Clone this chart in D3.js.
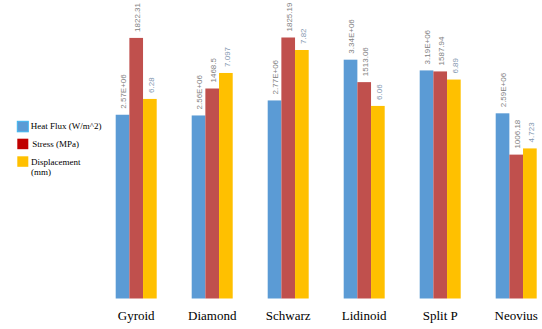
<!DOCTYPE html>
<html>
<head>
<meta charset="utf-8">
<script src="https://cdn.jsdelivr.net/npm/d3@7"></script>
<style>
  html, body { margin: 0; padding: 0; background: #fff; }
  svg { display: block; }
</style>
</head>
<body>
<svg id="chart" width="542" height="329"></svg>
<script>
const categories = ["Gyroid", "Diamond", "Schwarz", "Lidinoid", "Split P", "Neovius"];
const seriesNames = ["Heat Flux (W/m^2)", "Stress (MPa)", "Displacement (mm)"];
const heatFlux = [2.57e6, 2.56e6, 2.77e6, 3.34e6, 3.19e6, 2.59e6];
const stress = [1822.31, 1468.5, 1825.19, 1513.06, 1587.94, 1006.18];
const displacement = [6.28, 7.097, 7.82, 6.06, 6.89, 4.723];
const axisMax = [4e6, 2000, 9];

const barColors = ["#5B9BD5", "#C0504D", "#FFC000"];
const legendColors = ["#5B9BD5", "#C00000", "#FFC000"];
const labelColors = ["#7F7F7F", "#7F7F7F", "#8497B0"];

const svg = d3.select("#chart");
const baseY = 298.5, topY = 12.5;

const x = d3.scaleBand().domain(categories).range([115.7, 536.7]).paddingInner(0.4605).paddingOuter(0);
const xs = d3.scaleBand().domain([0, 1, 2]).range([0, x.bandwidth()]);
const ys = axisMax.map(m => d3.scaleLinear().domain([0, m]).range([baseY, topY]));

function sci(v) {
  const s = d3.format(".2e")(v); // 2.57e+6
  const [m, e] = s.split("e");
  const sign = e[0] === "-" ? "-" : "+";
  const ex = Math.abs(+e).toString().padStart(2, "0");
  return m + "E" + sign + ex;
}
const fmts = [sci, v => String(v), v => String(v)];

const seriesData = [heatFlux, stress, displacement];

seriesData.forEach((vals, si) => {
  const g = svg.append("g");
  g.selectAll("rect").data(vals).join("rect")
    .attr("x", (d, i) => x(categories[i]) + xs(si))
    .attr("width", xs.bandwidth())
    .attr("y", d => ys[si](d))
    .attr("height", d => baseY - ys[si](d))
    .attr("fill", barColors[si]);
  g.selectAll("text").data(vals).join("text")
    .attr("transform", (d, i) => {
      const cx = x(categories[i]) + xs(si) + xs.bandwidth() / 2 + 1;
      const cy = ys[si](d) - 6;
      return `translate(${cx},${cy}) rotate(-90)`;
    })
    .attr("dy", "0.35em")
    .attr("text-anchor", "start")
    .attr("font-family", "'Liberation Sans', Arial, sans-serif")
    .attr("font-size", "8px")
    .attr("fill", labelColors[si])
    .text(d => fmts[si](d));
});

// category labels
svg.append("g").selectAll("text").data(categories).join("text")
  .attr("x", d => x(d) + x.bandwidth() / 2)
  .attr("y", 320)
  .attr("text-anchor", "middle")
  .attr("font-family", "'Liberation Serif', 'Times New Roman', serif")
  .attr("font-size", "13px")
  .attr("fill", "#000")
  .text(d => d);

// legend
const legendY = [121.3, 138.7, 156.3];
const legend = svg.append("g");
seriesNames.forEach((name, i) => {
  legend.append("rect")
    .attr("x", 17.3).attr("y", legendY[i])
    .attr("width", 11).attr("height", 10.5)
    .attr("fill", legendColors[i])
    .attr("stroke", i === 0 ? "#3FB6F0" : "none")
    .attr("stroke-width", i === 0 ? 1 : 0);
  const t = legend.append("text")
    .attr("font-family", "'Liberation Serif', 'Times New Roman', serif")
    .attr("font-size", "9px")
    .attr("fill", "#000");
  if (i === 2) {
    const parts = name.split(" ");
    t.append("tspan").attr("x", 31).attr("y", legendY[i] + 8.4).text(parts[0]);
    t.append("tspan").attr("x", 31).attr("y", legendY[i] + 19).text(parts[1]);
  } else {
    t.attr("x", i === 1 ? 32.3 : 30.7).attr("y", legendY[i] + 7.8).text(name);
  }
});
</script>
</body>
</html>
